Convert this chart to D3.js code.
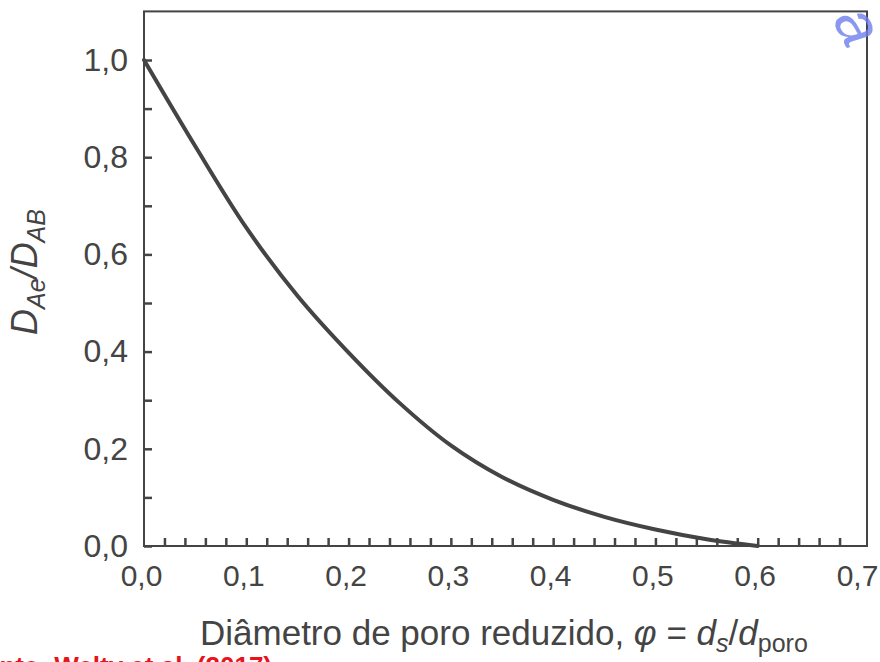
<!DOCTYPE html>
<html>
<head>
<meta charset="utf-8">
<script src="https://cdn.jsdelivr.net/npm/d3@7"></script>
<style>
  body { margin: 0; background: #fff; }
  svg { display: block; }
  text { font-family: "Liberation Sans", Arial, sans-serif; fill: #444; }
</style>
</head>
<body>
<div id="container"></div>
<script>
// values
const phi = [0, 0.05, 0.1, 0.15, 0.2, 0.25, 0.3, 0.35, 0.4, 0.45, 0.5, 0.55, 0.6];
const ratio = [1.0, 0.823, 0.655, 0.515, 0.398, 0.294, 0.207, 0.142, 0.095, 0.060, 0.034, 0.014, 0.0];
const xLabelTicks = [0, 0.1, 0.2, 0.3, 0.4, 0.5, 0.6, 0.7];
const xMinorTicks = d3.range(1, 35).map(i => i * 0.02);
const yLabelTicks = [0, 0.2, 0.4, 0.6, 0.8, 1.0];
const yMinorTicks = d3.range(0, 11).map(i => i / 10);

const w = 880;
const h = 662;

const svg = d3.select("#container")
  .append("svg")
  .attr("width", w)
  .attr("height", h);

//THE SCALES
const xScale = d3.scaleLinear().domain([0, 0.7]).range([144, 860]);
const yScale = d3.scaleLinear().domain([0, 1.1]).range([546, 11.4]);
const fmt = d3.formatLocale({ decimal: ",", thousands: ".", grouping: [3], currency: ["", ""] }).format(".1f");

//THE FRAME
svg.append("rect")
  .attr("x", xScale(0))
  .attr("y", yScale(1.1))
  .attr("width", 867 - xScale(0))
  .attr("height", yScale(0) - yScale(1.1))
  .attr("fill", "none")
  .attr("stroke", "#444")
  .attr("stroke-width", 2);

//THE AXES
//minor ticks point into the plot
const xMinor = d3.axisBottom(xScale).tickValues(xMinorTicks).tickSize(-8).tickFormat("");
svg.append("g")
  .attr("transform", `translate(0, ${yScale(0)})`)
  .call(xMinor)
  .call(g => g.select(".domain").remove())
  .call(g => g.selectAll("line").attr("stroke", "#444").attr("stroke-width", 2.5));

const xLabels = d3.axisBottom(xScale).tickValues(xLabelTicks).tickSize(0).tickPadding(19).tickFormat(fmt);
svg.append("g")
  .attr("transform", `translate(0, ${yScale(0)})`)
  .call(xLabels)
  .call(g => g.select(".domain").remove())
  .call(g => g.selectAll("text").attr("font-size", 30).attr("dx", -3).attr("fill", "#444")
    .attr("font-family", '"Liberation Sans", Arial, sans-serif'));

const yMinor = d3.axisLeft(yScale).tickValues(yMinorTicks).tickSize(-8).tickFormat("");
svg.append("g")
  .attr("transform", `translate(${xScale(0)}, 0)`)
  .call(yMinor)
  .call(g => g.select(".domain").remove())
  .call(g => g.selectAll("line").attr("stroke", "#444").attr("stroke-width", 2.5));

const yLabels = d3.axisLeft(yScale).tickValues(yLabelTicks).tickSize(0).tickPadding(16).tickFormat(fmt);
svg.append("g")
  .attr("transform", `translate(${xScale(0)}, 0)`)
  .call(yLabels)
  .call(g => g.select(".domain").remove())
  .call(g => g.selectAll("text").attr("font-size", 32).attr("fill", "#444")
    .attr("font-family", '"Liberation Sans", Arial, sans-serif'));

//THE CURVE
const line = d3.line()
  .x((d, i) => xScale(phi[i]))
  .y(d => yScale(d))
  .curve(d3.curveCatmullRom.alpha(0.5));

svg.append("path")
  .datum(ratio)
  .attr("d", line)
  .attr("fill", "none")
  .attr("stroke", "#444")
  .attr("stroke-width", 4)
  .attr("stroke-linecap", "round");

//AXIS TITLES
const yTitle = svg.append("text")
  .attr("transform", "translate(37, 272) rotate(-90)")
  .attr("text-anchor", "middle")
  .attr("font-size", 36)
  .attr("font-style", "italic");
yTitle.append("tspan").text("D");
yTitle.append("tspan").text("Ae").attr("font-size", 25).attr("dy", 8);
yTitle.append("tspan").text("/D").attr("dy", -8);
yTitle.append("tspan").text("AB").attr("font-size", 25).attr("dy", 8);

const xTitle = svg.append("text")
  .attr("x", 200)
  .attr("y", 645)
  .attr("font-size", 35);
xTitle.append("tspan").text("Diâmetro de poro reduzido, ");
xTitle.append("tspan").text("φ").attr("font-style", "italic");
xTitle.append("tspan").text(" = ");
xTitle.append("tspan").text("d").attr("font-style", "italic");
xTitle.append("tspan").text("s").attr("font-style", "italic").attr("font-size", 25).attr("dy", 7);
xTitle.append("tspan").text("/").attr("dy", -7);
xTitle.append("tspan").text("d").attr("font-style", "italic");
xTitle.append("tspan").text("poro").attr("font-size", 25).attr("dy", 7);

//SOURCE NOTE (cut by the bottom edge, as in the original)
svg.append("text")
  .attr("x", 272)
  .attr("y", 675)
  .attr("text-anchor", "end")
  .attr("font-size", 26)
  .attr("font-weight", "bold")
  .style("fill", "#e8141b")
  .text("Fonte: Welty et al. (2017)");

//WATERMARK fragment
svg.append("text")
  .attr("transform", "translate(832, 20) rotate(62)")
  .attr("font-size", 62)
  .attr("font-style", "italic")
  .style("fill", "#6f7ff0")
  .style("opacity", 0.8)
  .text("a");
</script>
</body>
</html>
